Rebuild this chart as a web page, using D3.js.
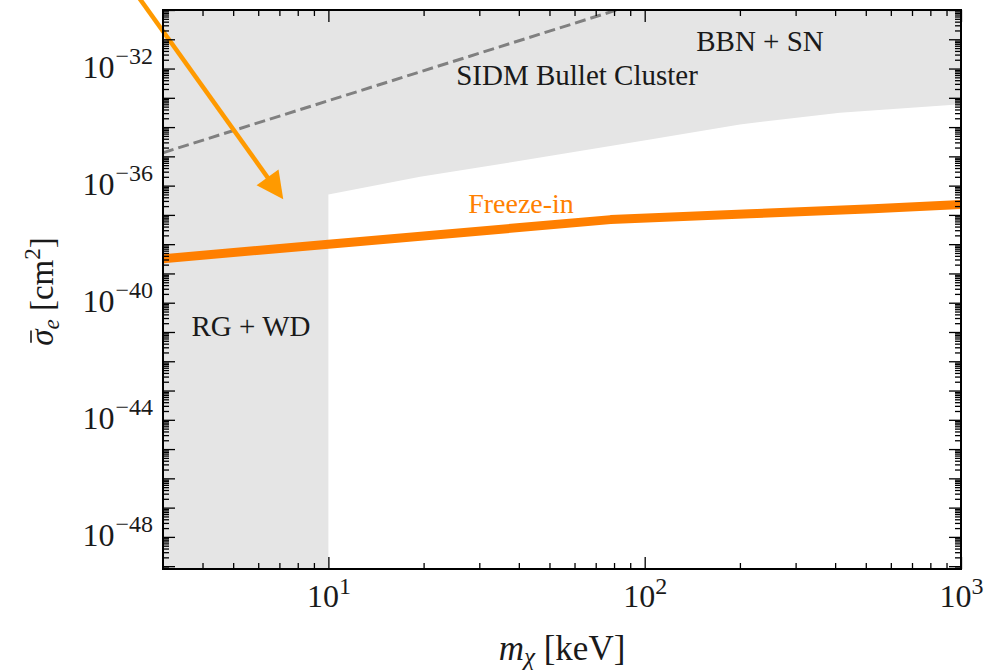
<!DOCTYPE html>
<html lang="en">
<head>
<meta charset="UTF-8">
<title>Freeze-in cross section</title>
<script src="https://cdn.jsdelivr.net/npm/d3@7"></script>
<style>
  body { margin: 0; background: #fff; }
  svg text { font-family: "Liberation Serif", "DejaVu Serif", serif; fill: #1a1a1a; }
</style>
</head>
<body>
<svg id="chart" width="1003" height="672"></svg>
<script>
// grey excluded regions
const rgwdMass = [3, 10];
const rgwdSigma = [8e-50, 8e-50];
const bbnMass = [10, 19.5, 40, 104, 200, 414, 1000];
const bbnSigma = [5.0e-37, 2.0e-36, 6.9e-36, 3.8e-35, 1.23e-34, 3.1e-34, 6.0e-34];

// SIDM bullet cluster bound (dashed)
const sidmMass = [3, 100];
const sidmSigma = [1.33e-35, 2.0e-30];

// freeze-in curve
const freezeMass = [3, 10, 78, 215, 527, 1000];
const freezeSigma = [3.2e-39, 9.9e-39, 6.9e-38, 1.09e-37, 1.61e-37, 2.26e-37];

// annotation arrow: start, tip
const arrowMass = [2.5, 7.2];
const arrowSigma = [2.95e-30, 3.4e-37];

// ticks
const xMajor = [10, 100, 1000];
const xMajorExp = ["1", "2", "3"];
const yLabelExp = [-48, -44, -40, -36, -32];

const pL = 163, pR = 961, pT = 10, pB = 569;
const grey = "#e5e5e5";

const svg = d3.select("#chart");

const x = d3.scaleLog().domain([3, 1000]).range([pL, pR]);
const y = d3.scaleLog().domain([8e-50, 1e-30]).range([pB, pT]);

svg.append("defs").append("clipPath").attr("id", "plot")
    .append("rect")
    .attr("x", pL).attr("y", pT)
    .attr("width", pR - pL).attr("height", pB - pT);

const body = svg.append("g").attr("clip-path", "url(#plot)");

// grey regions
const area = d3.area()
    .x(d => x(d[0]))
    .y0(y(1e-30))
    .y1(d => y(d[1]));

const region = rgwdMass.map((m, i) => [m, rgwdSigma[i]])
    .concat(bbnMass.map((m, i) => [m, bbnSigma[i]]));

body.append("path")
    .datum(region)
    .attr("d", area)
    .attr("fill", grey);

const line = d3.line().x(d => x(d[0])).y(d => y(d[1]));

// SIDM dashed line
body.append("path")
    .datum(sidmMass.map((m, i) => [m, sidmSigma[i]]))
    .attr("d", line)
    .attr("fill", "none")
    .attr("stroke", "#808080")
    .attr("stroke-width", 3)
    .attr("stroke-dasharray", "11,5");

// freeze-in
body.append("path")
    .datum(freezeMass.map((m, i) => [m, freezeSigma[i]]))
    .attr("d", line)
    .attr("fill", "none")
    .attr("stroke", "#ff7f00")
    .attr("stroke-width", 9)
    .attr("stroke-linejoin", "round");

// arrow (not clipped, it runs out of the top)
const p0 = [x(arrowMass[0]), y(arrowSigma[0])];
const p1 = [x(arrowMass[1]), y(arrowSigma[1])];
const len = Math.hypot(p1[0] - p0[0], p1[1] - p0[1]);
const ux = (p1[0] - p0[0]) / len, uy = (p1[1] - p0[1]) / len;
const headL = 27, headW = 13.5;
const base = [p1[0] - ux * headL, p1[1] - uy * headL];
svg.append("line")
    .attr("x1", p0[0]).attr("y1", p0[1])
    .attr("x2", base[0] + ux * 2).attr("y2", base[1] + uy * 2)
    .attr("stroke", "#ff9a00")
    .attr("stroke-width", 4.5);
svg.append("path")
    .attr("d", `M${p1[0]},${p1[1]}L${base[0] - uy * headW},${base[1] + ux * headW}L${base[0] + uy * headW},${base[1] - ux * headW}Z`)
    .attr("fill", "#ff9a00");

// region labels
const note = (tx, ty, str, col, size) => svg.append("text")
    .attr("x", tx).attr("y", ty)
    .attr("text-anchor", "middle")
    .attr("font-size", size)
    .style("fill", col)
    .text(str);
note(760, 51, "BBN + SN", "#1a1a1a", 29);
note(577, 85, "SIDM Bullet Cluster", "#1a1a1a", 29);
note(521, 213, "Freeze-in", "#ff8000", 28);
note(251, 336, "RG + WD", "#1a1a1a", 29);

// minor / major tick values
const xMinor = [];
for (let e = 0; e <= 2; e++) for (let k = 2; k <= 9; k++) {
    const v = k * Math.pow(10, e);
    if (v > 3 && v < 1000) xMinor.push(v);
}
const yMajor = d3.range(-49, -29).map(e => Math.pow(10, e));
const yMinor = [];
for (let e = -50; e <= -31; e++) for (let k = 2; k <= 9; k++) {
    const v = k * Math.pow(10, e);
    if (v > 8e-50 && v < 1e-30) yMinor.push(v);
}

function ticks(axisFn, scale, pos, vals, size) {
    const g = svg.append("g")
        .attr("transform", pos)
        .call(axisFn(scale).tickValues(vals).tickSize(-size).tickFormat(""));
    g.select(".domain").remove();
    g.selectAll("line").attr("stroke", "#000").attr("stroke-width", 1.3);
    return g;
}

ticks(d3.axisBottom, x, `translate(0,${pB})`, xMinor, 6);
ticks(d3.axisTop, x, `translate(0,${pT})`, xMinor, 6);
ticks(d3.axisTop, x, `translate(0,${pT})`, xMajor, 12);
ticks(d3.axisLeft, y, `translate(${pL},0)`, yMinor, 6);
ticks(d3.axisRight, y, `translate(${pR},0)`, yMinor, 6);
ticks(d3.axisLeft, y, `translate(${pL},0)`, yMajor, 12);
ticks(d3.axisRight, y, `translate(${pR},0)`, yMajor, 12);

// labelled bottom axis
const gx = svg.append("g")
    .attr("transform", `translate(0,${pB})`)
    .call(d3.axisBottom(x).tickValues(xMajor).tickSize(-12).tickPadding(15).tickFormat(""));
gx.select(".domain").remove();
gx.selectAll("line").attr("stroke", "#000").attr("stroke-width", 1.3);
gx.selectAll(".tick text")
    .attr("font-size", 32)
    .attr("font-family", null)
    .each(function (d, i) {
        const t = d3.select(this);
        t.append("tspan").text("10");
        t.append("tspan").attr("font-size", 24).attr("dy", -13).text(xMajorExp[i]);
    });

// labelled left axis values
svg.append("g")
    .selectAll("text")
    .data(yLabelExp)
    .join("text")
    .attr("x", pL - 10)
    .attr("y", d => y(Math.pow(10, d)) + 9)
    .attr("text-anchor", "end")
    .attr("font-size", 32)
    .each(function (d) {
        const t = d3.select(this);
        t.append("tspan").text("10");
        t.append("tspan").attr("font-size", 24).attr("dy", -14).attr("dx", 1).text("\u2212" + Math.abs(d));
    });

// frame
svg.append("rect")
    .attr("x", pL).attr("y", pT)
    .attr("width", pR - pL).attr("height", pB - pT)
    .attr("fill", "none")
    .attr("stroke", "#000")
    .attr("stroke-width", 2);

// axis titles
const xt = svg.append("text")
    .attr("x", (pL + pR) / 2)
    .attr("y", 660)
    .attr("text-anchor", "middle")
    .attr("font-size", 35);
xt.append("tspan").attr("font-style", "italic").text("m");
xt.append("tspan").attr("font-style", "italic").attr("font-size", 25).attr("dy", 5).text("\u03c7");
xt.append("tspan").attr("dy", -5).text(" [keV]");

const ytG = svg.append("g")
    .attr("transform", `translate(53,${(pT + pB) / 2 + 2}) rotate(-90)`);
const yt = ytG.append("text")
    .attr("text-anchor", "middle")
    .attr("font-size", 33);
yt.append("tspan").attr("font-style", "italic").text("\u03c3");
yt.append("tspan").attr("font-style", "italic").attr("font-size", 23).attr("dy", 6).text("e");
yt.append("tspan").attr("dy", -6).text(" [cm");
yt.append("tspan").attr("font-size", 23).attr("dy", -13).text("2");
yt.append("tspan").attr("dy", 13).text("]");

// bar over sigma
const sb = yt.node().getExtentOfChar(0);
ytG.append("line")
    .attr("x1", sb.x + 3).attr("x2", sb.x + sb.width - 1)
    .attr("y1", -22).attr("y2", -22)
    .attr("stroke", "#1a1a1a")
    .attr("stroke-width", 1.6);
</script>
</body>
</html>
